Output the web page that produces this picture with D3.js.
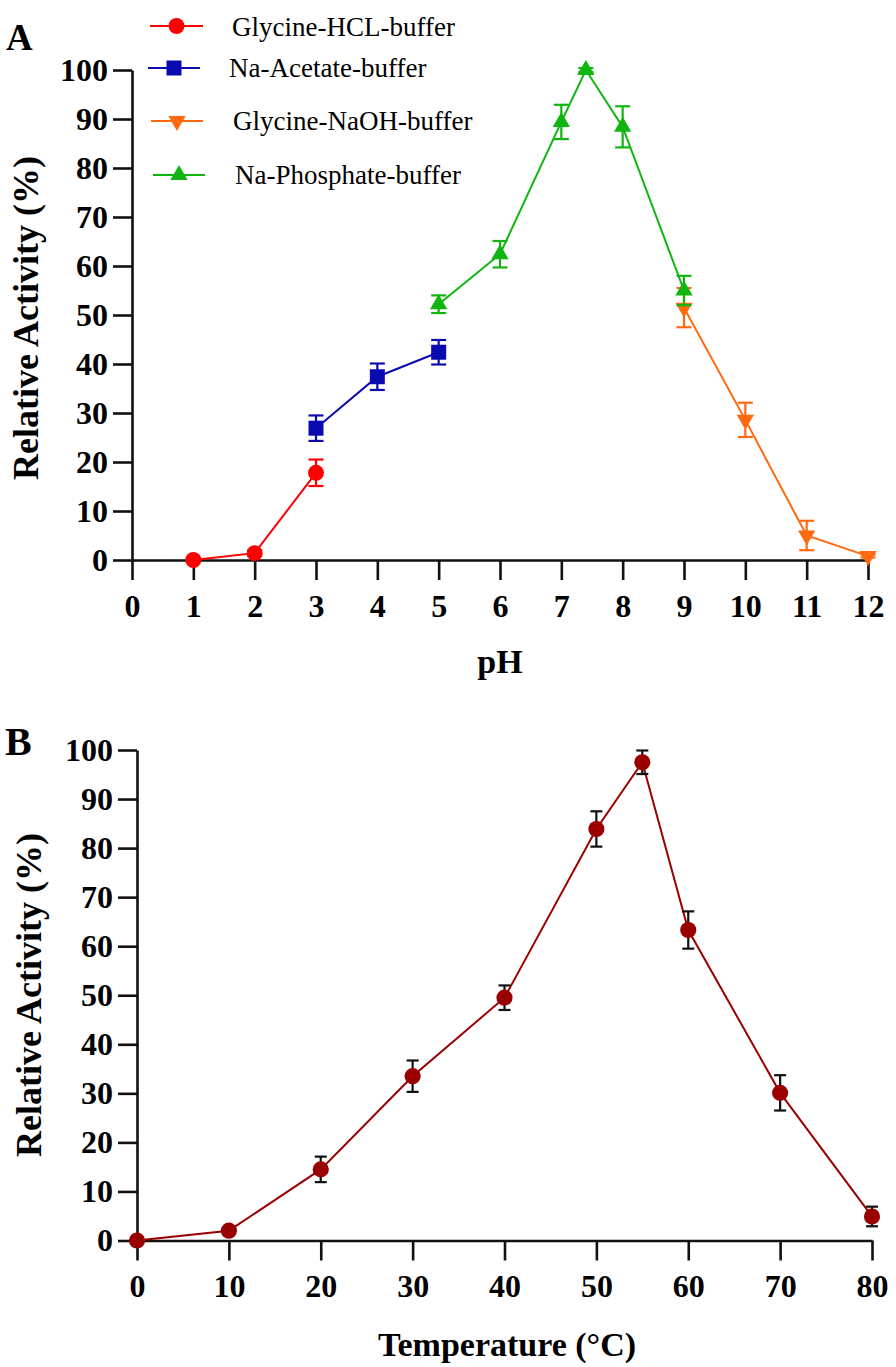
<!DOCTYPE html>
<html>
<head>
<meta charset="utf-8">
<script src="https://cdn.jsdelivr.net/npm/d3@7"></script>
<style>
  html, body { margin: 0; padding: 0; background: #fff; }
  svg { display: block; }
  .serif { font-family: "Liberation Serif", "Times New Roman", "DejaVu Serif", serif; }
</style>
</head>
<body>
<svg id="chart" width="896" height="1367"></svg>
<script>
// ---------- Panel A data (pH) ----------
const hclPH = [1, 2, 3];
const hclVal = [0, 1.4, 17.8];
const hclErr = [0.4, 0.6, 2.7];

const acetatePH = [3, 4, 5];
const acetateVal = [26.9, 37.4, 42.4];
const acetateErr = [2.6, 2.7, 2.5];

const naohPH = [9, 10, 11, 12];
const naohVal = [51.5, 28.6, 5.0, 0.8];
const naohErr = [4.0, 3.5, 3.0, 0.3];

const phosphatePH = [5, 6, 7, 7.4, 8, 9];
const phosphateVal = [52.2, 62.4, 89.4, 100, 88.4, 55];
const phosphateErr = [1.8, 2.7, 3.5, 0.4, 4.2, 3.0];

const seriesNames = ["Glycine-HCL-buffer", "Na-Acetate-buffer", "Glycine-NaOH-buffer", "Na-Phosphate-buffer"];

const phTicks = [0,1,2,3,4,5,6,7,8,9,10,11,12];
const yTicks = [0,10,20,30,40,50,60,70,80,90,100];

// ---------- Panel B data (Temperature) ----------
const temps = [0, 10, 20, 30, 40, 50, 55, 60, 70, 80];
const tempVal = [0, 2.0, 14.5, 33.5, 49.5, 83.9, 97.5, 63.3, 30.1, 4.9];
const tempErr = [0.3, 0.5, 2.6, 3.2, 2.5, 3.6, 2.4, 3.8, 3.6, 2.0];
const tempTicks = [0,10,20,30,40,50,60,70,80];

// ---------- styles ----------
const FONT = "Liberation Serif";
const colors = { hcl: "#ff0000", acetate: "#0a0ab0", naoh: "#ff6a10", phosphate: "#10b510", temp: "#9a0000" };

const svg = d3.select("#chart");

function styleAxis(g) {
  g.attr("font-family", null).attr("font-size", null)
   .attr("class", "serif")
   .style("font-family", FONT).style("font-size", "32px").style("font-weight", "bold");
  g.selectAll("path.domain").attr("stroke", "#111").attr("stroke-width", 2.6);
  g.selectAll(".tick line").attr("stroke", "#111").attr("stroke-width", 2.6);
  g.selectAll(".tick text").attr("fill", "#000");
}

function label(parent, txt, size, weight) {
  return parent.append("text").attr("class", "serif")
    .style("font-family", FONT).style("font-size", size + "px").style("font-weight", weight)
    .attr("fill", "#000").text(txt);
}

function drawSeries(g, x, y, xs, vals, errs, color, symbol, symSize, errColor, capW) {
  const pts = xs.map((d, i) => ({ x: d, v: vals[i], e: errs[i] }));
  g.append("path")
    .datum(pts)
    .attr("fill", "none")
    .attr("stroke", color)
    .attr("stroke-width", 2)
    .attr("d", d3.line().x(d => x(d.x)).y(d => y(d.v)));
  const eb = g.append("g").attr("stroke", errColor).attr("stroke-width", 2.2);
  pts.forEach(d => {
    const cx = x(d.x), y1 = y(d.v + d.e), y0 = y(d.v - d.e);
    eb.append("line").attr("x1", cx).attr("x2", cx).attr("y1", y1).attr("y2", y0);
    eb.append("line").attr("x1", cx - capW/2).attr("x2", cx + capW/2).attr("y1", y1).attr("y2", y1);
    eb.append("line").attr("x1", cx - capW/2).attr("x2", cx + capW/2).attr("y1", y0).attr("y2", y0);
  });
  g.append("g").selectAll("path")
    .data(pts).join("path")
    .attr("transform", d => `translate(${x(d.x)},${y(d.v)})${symbol.flip ? " rotate(180)" : ""}`)
    .attr("d", d3.symbol().type(symbol.type).size(symSize))
    .attr("fill", color);
}

// ================= Panel A =================
const xA = d3.scaleLinear().domain([0, 12]).range([132, 868]);
const yA = d3.scaleLinear().domain([0, 100]).range([560, 70]);

const gA = svg.append("g");
gA.append("g").attr("transform", "translate(0,560)")
  .call(d3.axisBottom(xA).tickValues(phTicks).tickFormat(d3.format("d")).tickSize(20).tickSizeOuter(0).tickPadding(14))
  .call(styleAxis);
gA.append("g").attr("transform", "translate(132,0)")
  .call(d3.axisLeft(yA).tickValues(yTicks).tickFormat(d3.format("d")).tickSize(19).tickSizeOuter(0).tickPadding(5))
  .call(styleAxis);

const symCircle = { type: d3.symbolCircle };
const symSquare = { type: d3.symbolSquare };
const symUp = { type: d3.symbolTriangle };
const symDown = { type: d3.symbolTriangle, flip: true };

drawSeries(gA, xA, yA, hclPH, hclVal, hclErr, colors.hcl, symCircle, 200, colors.hcl, 15);
drawSeries(gA, xA, yA, acetatePH, acetateVal, acetateErr, colors.acetate, symSquare, 225, colors.acetate, 15);
drawSeries(gA, xA, yA, naohPH, naohVal, naohErr, colors.naoh, symDown, 130, colors.naoh, 15);
drawSeries(gA, xA, yA, phosphatePH, phosphateVal, phosphateErr, colors.phosphate, symUp, 130, colors.phosphate, 15);

// Legend
const legendRows = [
  { name: seriesNames[0], color: colors.hcl, sym: symCircle, size: 200, y: 26, x1: 150, x2: 203, tx: 232, ty: 36 },
  { name: seriesNames[1], color: colors.acetate, sym: symSquare, size: 225, y: 68, x1: 148, x2: 200, tx: 229, ty: 77 },
  { name: seriesNames[2], color: colors.naoh, sym: symDown, size: 130, y: 121, x1: 151, x2: 203, tx: 233, ty: 130 },
  { name: seriesNames[3], color: colors.phosphate, sym: symUp, size: 130, y: 175, x1: 153, x2: 205, tx: 235, ty: 184 }
];
const lg = svg.append("g");
legendRows.forEach(r => {
  lg.append("line").attr("x1", r.x1).attr("x2", r.x2).attr("y1", r.y).attr("y2", r.y)
    .attr("stroke", r.color).attr("stroke-width", 2);
  lg.append("path")
    .attr("transform", `translate(${(r.x1 + r.x2)/2},${r.y})${r.sym.flip ? " rotate(180)" : ""}`)
    .attr("d", d3.symbol().type(r.sym.type).size(r.size)).attr("fill", r.color);
  label(lg, r.name, 27, "normal").attr("x", r.tx).attr("y", r.ty);
});

label(gA, "pH", 34, "bold").attr("x", 500).attr("y", 673).attr("text-anchor", "middle");
label(gA, "Relative Activity (%)", 36, "bold").attr("transform", "translate(38,318) rotate(-90)").attr("text-anchor", "middle");
label(svg, "A", 37, "bold").attr("x", 6).attr("y", 50);

// ================= Panel B =================
const xB = d3.scaleLinear().domain([0, 80]).range([137, 872]);
const yB = d3.scaleLinear().domain([0, 100]).range([1240.5, 750]);

const gB = svg.append("g");
gB.append("g").attr("transform", "translate(0,1240.5)")
  .call(d3.axisBottom(xB).tickValues(tempTicks).tickFormat(d3.format("d")).tickSize(20).tickSizeOuter(0).tickPadding(14))
  .call(styleAxis);
gB.append("g").attr("transform", "translate(137,0)")
  .call(d3.axisLeft(yB).tickValues(yTicks).tickFormat(d3.format("d")).tickSize(19).tickSizeOuter(0).tickPadding(5))
  .call(styleAxis);

drawSeries(gB, xB, yB, temps, tempVal, tempErr, colors.temp, symCircle, 205, "#111", 12);

label(gB, "Temperature (°C)", 34, "bold").attr("x", 507).attr("y", 1356).attr("text-anchor", "middle");
label(gB, "Relative Activity (%)", 36, "bold").attr("transform", "translate(41,995) rotate(-90)").attr("text-anchor", "middle");
label(svg, "B", 40, "bold").attr("x", 5).attr("y", 755);
</script>
</body>
</html>
